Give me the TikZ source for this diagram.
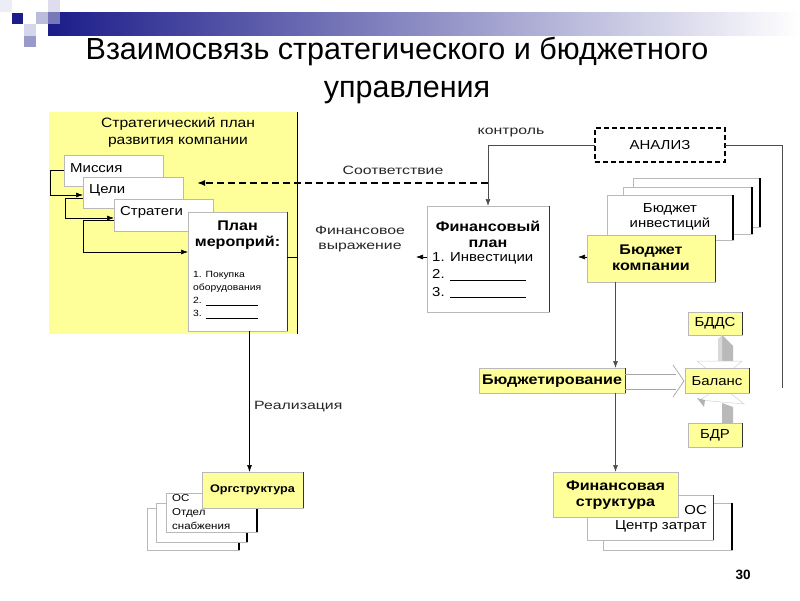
\documentclass[tikz,border=0pt]{standalone}
\usepackage{fontspec}
\setmainfont{Liberation Sans}
\newfontfamily\dfont[FakeStretch=1.15]{Liberation Sans}
\newfontfamily\lfont[FakeStretch=1.32]{Liberation Sans}
\usetikzlibrary{arrows.meta}
\definecolor{myyellow}{RGB}{255,255,153}
\definecolor{navy}{RGB}{28,28,138}
\newcommand\rsh[1]{\draw[sh] (#1.north east) -- (#1.south east);}
\begin{document}
\begin{tikzpicture}[x=1pt,y=-1pt,
 box/.style={draw=gray!55, line width=0.5pt, fill=white, inner sep=0pt, outer sep=0pt},
 ybox/.style={box, fill=myyellow},
 sh/.style={line width=1.2pt, black},
 tx/.style={inner sep=0pt, font=\dfont\fontsize{13}{15.5}\selectfont, align=center},
 tb/.style={inner sep=0pt, font=\dfont\bfseries\fontsize{14}{16}\selectfont, align=center},
 ts/.style={inner sep=0pt, font=\dfont\fontsize{9}{13}\selectfont, align=left},
 lab/.style={inner sep=0pt, font=\lfont\fontsize{12}{15}\selectfont, align=center, text=black!85},
 arr/.style={-{Latex[length=7pt,width=5pt]}, line width=0.6pt},
 gl/.style={gray!60!black, line width=0.7pt},
 garr/.style={gl, -{Latex[length=7pt,width=5pt]}}
]
\useasboundingbox (0,0) rectangle (800,600);
\fill[white] (0,0) rectangle (800,600);
% header decoration
\shade[left color=navy, right color=white] (48,12) rectangle (800,35);
\fill[navy!60!white] (48,12) rectangle (60,24);
\fill[navy] (12,13) rectangle (23,24);
\fill[navy!30!white] (36,12) rectangle (48,24);
\fill[navy!15!white] (48,0) rectangle (60,12);
\fill[navy!18!white] (24,24) rectangle (36,36);
\fill[navy!45!white] (24,36) rectangle (36,47);
\fill[navy!8!white] (0,0) rectangle (12,12);
% title
\node[anchor=base, inner sep=0, font=\fontsize{30.5}{36}\selectfont] (t1) at (397,59) {Взаимосвязь стратегического и бюджетного};
\node[anchor=base, inner sep=0, font=\fontsize{30.5}{36}\selectfont] (t2) at (407,97) {управления};

% strategic plan area
\node[fill=myyellow, inner sep=0, minimum width=248, minimum height=222] (strat) at (173,223) {};
\rsh{strat}
\node[tx, font=\dfont\fontsize{13.6}{16.5}\selectfont] (stratT) at (178,132.5) {Стратегический план\\развития компании};

\node[box, minimum width=99, minimum height=31] (mis) at (113.5,170.5) {};
\node[tx, anchor=west] (misT) at (70,168) {Миссия};
\node[box, minimum width=100, minimum height=31] (celi) at (133,192.5) {};
\node[tx, anchor=west] (celiT) at (89,190) {Цели};
\node[box, minimum width=99, minimum height=32] (strg) at (163.5,215) {};
\node[tx, anchor=west] (strgT) at (120,212) {Стратеги};
\node[box, minimum width=99, minimum height=119] (plan) at (237.5,271.5) {};
\draw[line width=0.8pt, gray!40!black] (plan.north east) -- (plan.south east);
\node[tb] (planT) at (237.5,235) {План\\мероприй:};
\node[ts, anchor=north west] (planL) at (193,271) {1. Покупка\\оборудования\\2. \underline{\hspace{52pt}}\\3. \underline{\hspace{52pt}}};

\draw[arr] (mis.west) -- ++(-14,0) |- ([yshift=-2.5]celi.west);
\draw[arr] ([yshift=-5.5]celi.west) -- ++(-18,0) |- ([yshift=-3]strg.west);
\draw[arr] ([yshift=-5]strg.west) -- ++(-31,0) |- ([yshift=19.5]plan.west);

% financial plan
\node[box, minimum width=122, minimum height=106] (fin) at (488,259) {};
\draw[line width=0.8pt, gray!40!black] (fin.north east) -- (fin.south east);
\node[tb] (finT) at (488,234) {Финансовый\\план};
\node[tx, anchor=north west, align=left, font=\dfont\fontsize{13}{17.5}\selectfont] (finL) at (432,252) {1. Инвестиции\\2. \underline{\hspace{76pt}}\\3. \underline{\hspace{76pt}}};
\draw[arr] ([yshift=2]fin.west) -- ++(-11,0);
\draw[line width=0.6pt] ([yshift=14.5]plan.east) -- ([yshift=14.5]plan.east -| strat.east);
\node[lab] (finexp) at (360,239.5) {Финансовое\\выражение};

% analysis
\node[box, draw=black, dashed, dash pattern=on 5pt off 3pt, line width=1.4pt, minimum width=130, minimum height=34] (anal) at (660,145) {};
\node[tx] (analT) at (660,145) {АНАЛИЗ};
\draw[garr] (anal.west) -- (anal.west -| fin.north) -- (fin.north);
\coordinate (kc) at (fin.north |- 0,183);
\coordinate (sootvEnd) at (197,183);
\draw[line width=1.5pt, dash pattern=on 7pt off 4pt, -{Latex[length=8pt,width=6pt]}] (kc) -- (sootvEnd);
\node[lab] (kontr) at (511,133) {контроль};
\node[lab] (sootv) at (393,170) {Соответствие};
\coordinate (rEnd) at (782,388);
\draw[gl] (anal.east) -| (rEnd);

% budget stack
\node[box, minimum width=127, minimum height=49] (b1) at (696.5,202.5) {};
\rsh{b1}
\node[box, minimum width=129, minimum height=47] (b2) at (687.5,210.5) {};
\rsh{b2}
\node[box, minimum width=126, minimum height=45] (b3) at (670,217.5) {};
\rsh{b3}
\node[tx] (b3T) at (670,217) {Бюджет\\инвестиций};
\node[ybox, minimum width=128, minimum height=47] (bk) at (651,258.5) {};
\draw[line width=1pt, gray!40!black] (bk.north east) -- (bk.south east);
\node[tb] (bkT) at (651,257.5) {Бюджет\\компании};
\draw[arr] ([yshift=1.5]bk.west) -- ++(-9,0);

% budgeting
\node[ybox, minimum width=146, minimum height=25] (budg) at (552,380.5) {};
\draw[line width=1pt, gray!40!black] (budg.north east) -- (budg.south east);
\node[tb] (budgT) at (552,381) {Бюджетирование};

% financial structure stack
\node[box, minimum width=129, minimum height=47] (fs2) at (667.5,526.5) {};
\rsh{fs2}
\node[box, minimum width=126, minimum height=45] (fs1) at (650,517.5) {};
\draw[line width=1pt, gray!40!black] (fs1.north east) -- (fs1.south east);
\node[tx, anchor=east] (fs1a) at (707,510) {ОС};
\node[tx, anchor=east] (fs1b) at (707,526) {Центр затрат};
\node[ybox, minimum width=125, minimum height=45] (fs) at (615.5,494.5) {};
\node[tb] (fsT) at (615.5,495) {Финансовая\\структура};

\draw[garr] (fs.north |- bk.south) -- (fs.north |- budg.north);
\draw[garr] (fs.north |- budg.south) -- (fs.north);

% block arrow budgeting -> balance
\draw[gray!70, line width=0.7pt] (budg.east |- 0,374) -- (676,374);
\draw[gray!70, line width=0.7pt] (budg.east |- 0,389) -- (676,389);
\draw[gray!70, line width=0.7pt] (673,365) -- (684,381) -- (673,397);

% BDDS and BDR
\node[ybox, minimum width=54, minimum height=23] (bdds) at (715,323.5) {};
\draw[line width=1pt, gray!40!black] (bdds.north east) -- (bdds.south east);
\node[tx] (bddsT) at (715,323.5) {БДДС};
\node[ybox, minimum width=54, minimum height=24] (bdr) at (715,435) {};
\draw[line width=1pt, gray!40!black] (bdr.north east) -- (bdr.south east);
\node[tx] (bdrT) at (715,435) {БДР};

% gray 3D arrows
\fill[gray!55] (722,335) -- (733,346) -- (733,362) -- (722,362) -- cycle;
\fill[gray!30] (722,335) -- (722,362) -- (718,362) -- (718,339) -- cycle;
\draw[gray!35, fill=white, line width=0.5pt] (697,361) -- (742,361) -- (720,380) -- cycle;
\fill[gray!55] (722,423) -- (733,423) -- (733,407) -- (722,403) -- cycle;
\draw[gray!35, fill=white, line width=0.5pt] (700,400) -- (744,404) -- (721,386) -- cycle;
\fill[gray!60] (697,398) -- (705,400) -- (704,407) -- cycle;

\node[ybox, minimum width=64, minimum height=25] (bal) at (717,380.5) {};
\draw[line width=1pt, gray!40!black] (bal.north east) -- (bal.south east);
\node[tx] (balT) at (717,381) {Баланс};

% org structure stack
\node[box, minimum width=92, minimum height=42] (o3) at (193,529) {};
\rsh{o3}
\node[box, minimum width=91, minimum height=39] (o2) at (201.5,522.5) {};
\rsh{o2}
\node[box, minimum width=91, minimum height=39] (o1) at (211.5,512.5) {};
\rsh{o1}
\node[ts, anchor=north west, font=\dfont\fontsize{10}{14}\selectfont] (o1T) at (172,494.5) {ОС\\Отдел\\снабжения};
\node[ybox, minimum width=101, minimum height=36] (org) at (252.5,490) {};
\draw[line width=1pt, gray!40!black] (org.north east) -- (org.south east);
\node[tb, font=\dfont\bfseries\fontsize{11}{13}\selectfont] (orgT) at (252.5,490) {Оргструктура};

\draw[arr] ([xshift=12]plan.south) -- ([xshift=12]plan.south |- org.north);
\node[lab, anchor=west] (real) at (254,407) {Реализация};

\node[inner sep=0, font=\bfseries\fontsize{13.5}{16}\selectfont] (pg) at (743,575) {30};
\end{tikzpicture}
\end{document}
